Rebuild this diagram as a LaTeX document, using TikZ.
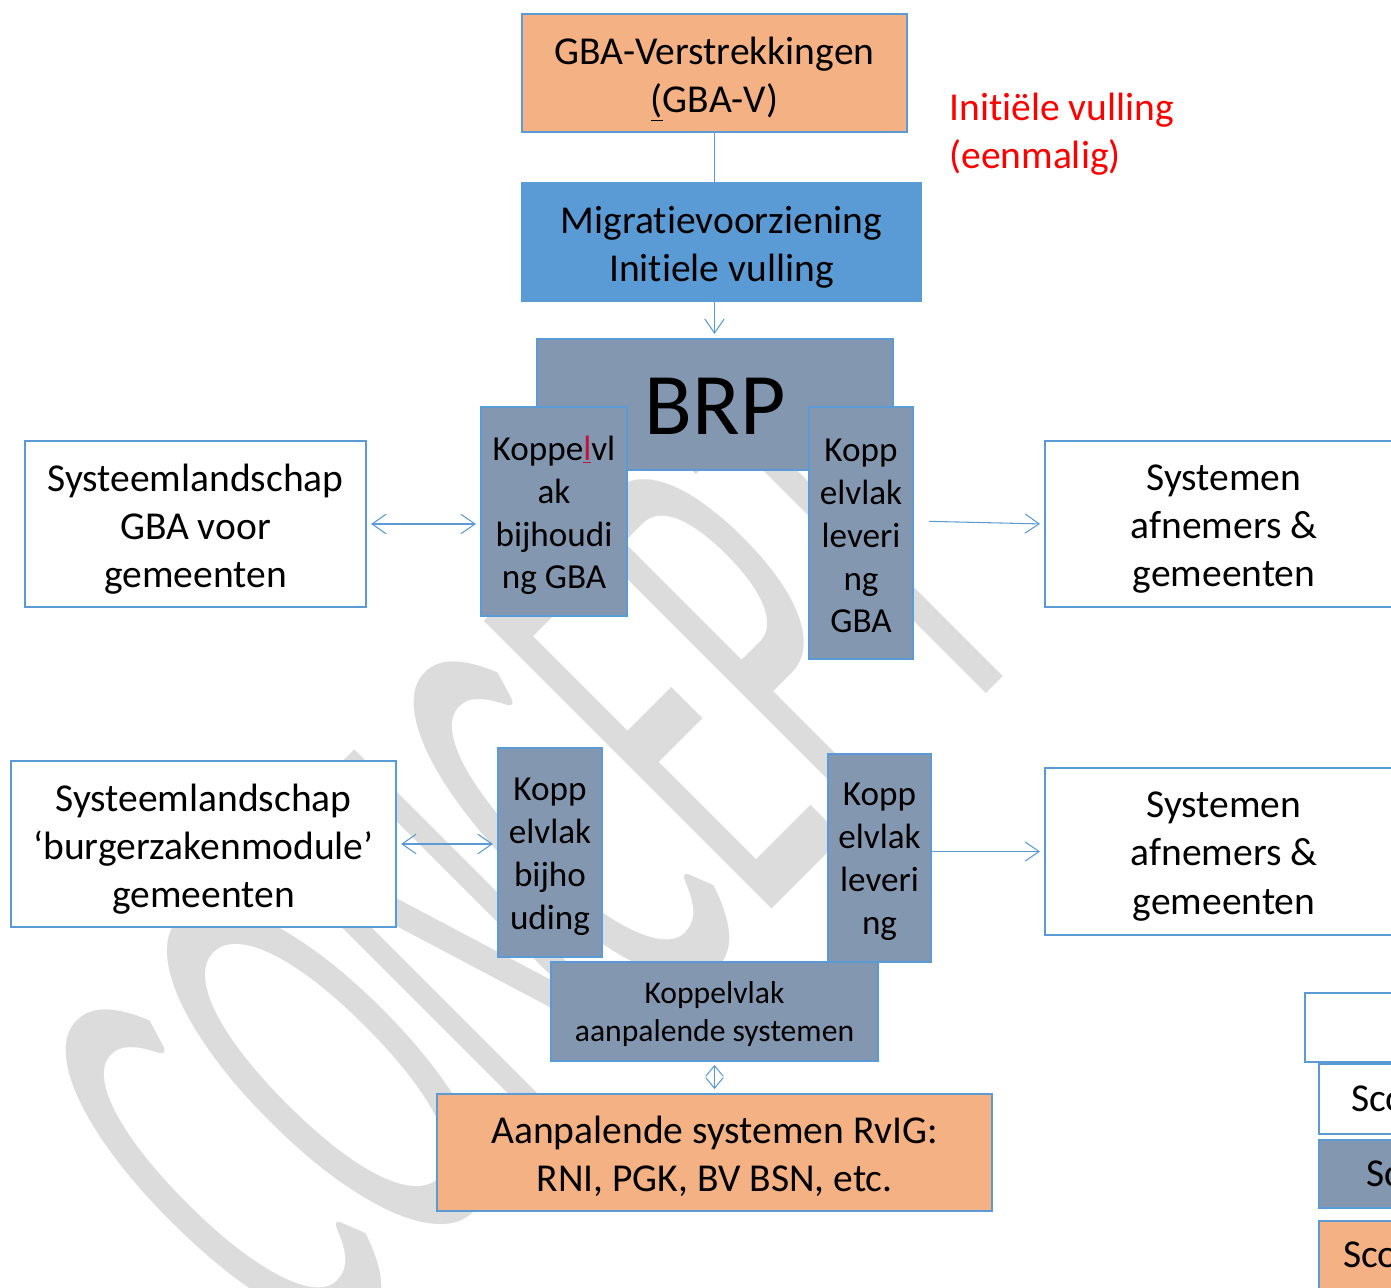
\documentclass[tikz,border=0pt]{standalone}
\usepackage{fontspec}
\setmainfont{Carlito}[Ligatures=NoCommon]
\usetikzlibrary{arrows.meta}
\definecolor{bord}{HTML}{5B9BD5}
\definecolor{orng}{HTML}{F4B183}
\definecolor{slate}{HTML}{8497B0}
\definecolor{wmgray}{HTML}{DCDCDC}
\definecolor{crim}{HTML}{C0143C}
\begin{document}
\begin{tikzpicture}[x=0.02cm,y=-0.02cm,
  mainfont/.style={font=\fontsize{22.5}{27.5}\selectfont},
  kvfont/.style={font=\fontsize{20}{24.4}\selectfont},
  sz/.style 2 args={minimum width=#1*0.02cm, minimum height=#2*0.02cm},
  box/.style={draw=bord, line width=1.1pt, inner sep=0pt},
  kvbox/.style={box, fill=slate},
  txt/.style={inner sep=0pt, align=center, mainfont},
  kvtxt/.style={txt, kvfont},
  conn/.style={draw=bord, line width=0.6pt},
  arr/.style={conn, -{Straight Barb[length=8pt,width=11pt]}},
  darr/.style={conn, {Straight Barb[length=8pt,width=11pt]}-{Straight Barb[length=8pt,width=11pt]}},
  sdarr/.style={conn, {Straight Barb[length=6pt,width=10pt]}-{Straight Barb[length=6pt,width=10pt]}},
  lbl/.style={inner sep=0pt, mainfont}
]
\useasboundingbox (0,0) rectangle (1391,1287);
\clip (0,0) rectangle (1391,1287);

% watermark
\node[anchor=base west, inner sep=0pt, rotate=45, xscale=0.424, text=wmgray,
      font=\fontsize{361}{361}\selectfont] (wm) at (308,1372) {CONCEPT};

% top chain
\node[box, fill=orng, sz={385}{118}] (gbav) at (714.5,73) {};
\node[txt] (gbavt) at ([yshift=-0.12cm]gbav.center) {GBA-Verstrekkingen\\\underline{(}GBA-V)};
\node[box, fill=bord, sz={399}{118}] (migr) at (721.5,242) {};
\node[txt] (migrt) at ([yshift=-0.1cm]migr.center) {Migratievoorziening\\Initiele vulling};
\node[lbl, anchor=west, align=left, text=red] (note) at (949,134) {Initiële vulling\\(eenmalig)};

% BRP
\node[box, fill=slate, sz={356}{131}] (brp) at (715,404.5) {};
\node[txt, font=\fontsize{50}{60}\selectfont] (brpt) at ([yshift=-0.04cm]brp.center) {BRP};
\node[kvbox, sz={146}{209}] (kbij) at (554,511.5) {};
\node[kvtxt] (kbijt) at ([yshift=-0.08cm]kbij.center) {Koppe\textcolor{crim}{\underline{l}}vl\\ak\\bijhoudi\\ng GBA};
\node[kvbox, sz={104}{252}] (klev) at (861,533) {};
\node[kvtxt] (klevt) at ([yshift=-0.06cm]klev.center) {Kopp\\elvlak\\leveri\\ng\\GBA};

\node[box, fill=white, sz={341}{166}] (sysgba) at (195.5,524) {};
\node[txt] (sysgbat) at ([yshift=-0.1cm]sysgba.center) {Systeemlandschap\\GBA voor\\gemeenten};
\node[box, fill=white, sz={358}{166}] (sysaf1) at (1224,524) {};
\node[txt] (sysaf1t) at ([yshift=-0.1cm]sysaf1.center) {Systemen\\afnemers \&\\gemeenten};

% lower part
\node[box, fill=white, sz={385}{166}] (sysbz) at (203.5,844) {};
\node[txt] (sysbzt) at ([yshift=-0.1cm]sysbz.center) {Systeemlandschap\\‘burgerzakenmodule’\\gemeenten};
\node[kvbox, sz={104}{209}] (kbij2) at (550,852.5) {};
\node[kvtxt] (kbij2t) at ([yshift=-0.08cm]kbij2.center) {Kopp\\elvlak\\bijho\\uding};
\node[kvbox, sz={103}{208}] (klev2) at (879.5,858) {};
\node[kvtxt] (klev2t) at ([yshift=-0.08cm]klev2.center) {Kopp\\elvlak\\leveri\\ng};
\node[box, fill=white, sz={358}{167}] (sysaf2) at (1224,851.5) {};
\node[txt] (sysaf2t) at ([yshift=-0.1cm]sysaf2.center) {Systemen\\afnemers \&\\gemeenten};
\node[box, fill=slate, sz={327}{99}] (kaan) at (714.5,1011.5) {};
\node[txt, font=\fontsize{18}{21.5}\selectfont] (kaant) at ([yshift=-0.05cm]kaan.center) {Koppelvlak\\aanpalende systemen};
\node[box, fill=orng, sz={555}{117}] (rvig) at (714.5,1152.5) {};
\node[txt] (rvigt) at ([yshift=-0.08cm]rvig.center) {Aanpalende systemen RvIG:\\RNI, PGK, BV BSN, etc.};

% legend (cut off at the right edge)
\node[box, fill=white, sz={155}{69}] (lega) at (1382.5,1027.5) {};
\node[box, fill=white, sz={141}{70}] (legb) at (1389.5,1099) {};
\node[box, fill=slate, sz={141}{68}] (legc) at (1389.5,1174) {};
\node[box, fill=orng, sz={141}{79}] (legd) at (1389.5,1260.5) {};
\node[lbl, anchor=west] (legbt) at (1351,1102) {Scope};
\node[lbl, anchor=west] (legct) at (1366,1177) {Scope};
\node[lbl, anchor=west] (legdt) at (1343,1258) {Scope};

% connectors
\draw[conn] (gbav.south) -- (migr.north -| gbav.south);
\draw[arr, shorten >=2.3pt] (migr.south -| gbav.south) -- (brp.north -| gbav.south);
\draw[darr, shorten <=2.3pt, shorten >=2.3pt] (sysgba.east) -- (sysgba.east -| kbij.west);
\draw[arr, shorten <=8.5pt, shorten >=2.3pt] ([yshift=0.06cm]klev.east |- sysaf1.west) -- (sysaf1.west);
\draw[darr, shorten <=2.3pt, shorten >=2.3pt] (sysbz.east) -- (sysbz.east -| kbij2.west);
\draw[arr, shorten >=2.3pt] (klev2.east |- sysaf2.west) -- (sysaf2.west);
\draw[sdarr, shorten <=1.7pt, shorten >=2.3pt] (kaan.south) -- (rvig.north);
\end{tikzpicture}
\end{document}
